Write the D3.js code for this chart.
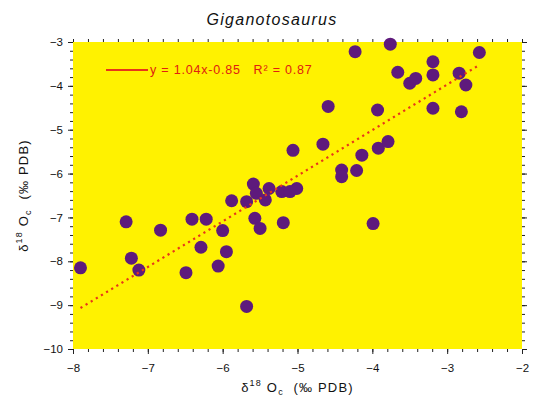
<!DOCTYPE html>
<html>
<head>
<meta charset="utf-8">
<script src="https://cdn.jsdelivr.net/npm/d3@7"></script>
<style>
  body { margin: 0; background: #fff; }
  text { font-family: "Liberation Sans", Arial, sans-serif; white-space: pre; }
</style>
</head>
<body>
<div id="chart"></div>
<script>
// data
const xVals = [-7.90, -7.29, -7.22, -7.12, -6.83, -6.49, -6.41, -6.22, -6.29, -6.06,
               -5.95, -6.00, -5.88, -5.68, -5.68, -5.59, -5.55, -5.43, -5.38, -5.57,
               -5.50, -5.19, -5.21, -5.10, -5.01, -5.06, -4.66, -4.59, -4.41, -4.41,
               -4.21, -4.14, -3.92, -3.79, -3.93, -3.99, -4.23, -3.76, -3.66, -3.50,
               -3.42, -3.19, -3.19, -3.19, -2.84, -2.75, -2.81, -2.57];
const yVals = [-8.15, -7.10, -7.93, -8.20, -7.29, -8.26, -7.04, -7.04, -7.68, -8.11,
               -7.78, -7.30, -6.62, -9.03, -6.64, -6.24, -6.45, -6.60, -6.34, -7.02,
               -7.25, -7.12, -6.41, -6.41, -6.34, -5.47, -5.33, -4.47, -5.92, -6.07,
               -5.93, -5.58, -5.42, -5.27, -4.55, -7.14, -3.22, -3.05, -3.69, -3.94,
               -3.83, -3.45, -3.75, -4.51, -3.71, -3.98, -4.59, -3.24];
const slope = 1.04, intercept = -0.85;
const xTicks = [-8, -7, -6, -5, -4, -3, -2];
const yTicks = [-10, -9, -8, -7, -6, -5, -4, -3];
const fitLabel = "y = 1.04x-0.85   R² = 0.87";

const points = xVals.map((x, i) => ({x: x, y: yVals[i]}));

const width = 535, height = 400;
const margin = {top: 42, right: 13, bottom: 51, left: 73};
const w = width - margin.left - margin.right;
const h = height - margin.top - margin.bottom;

const svg = d3.select("#chart").append("svg")
    .attr("width", width)
    .attr("height", height);

const g = svg.append("g")
    .attr("transform", "translate(" + margin.left + "," + margin.top + ")");

const x = d3.scaleLinear().domain([-8, -2]).range([0, w]);
const y = d3.scaleLinear().domain([-10, -3]).range([h, 0]);

g.append("rect")
    .attr("width", w)
    .attr("height", h)
    .attr("fill", "#fff200");

// minor ticks every 0.2
const xMinor = d3.range(-8, -1.99, 0.2).map(d => +d.toFixed(1));
const yMinor = d3.range(-10, -2.99, 0.2).map(d => +d.toFixed(1));

function styleAxis(sel) {
  sel.select(".domain").remove();
  sel.selectAll("line").attr("stroke", "#222");
  sel.selectAll("text").attr("font-size", 11.5).attr("fill", "#111");
}

// bottom
g.append("g").attr("transform", "translate(0," + h + ")")
    .call(d3.axisBottom(x).tickValues(xMinor).tickSize(3).tickFormat(""))
    .call(styleAxis);
g.append("g").attr("transform", "translate(0," + h + ")")
    .call(d3.axisBottom(x).tickValues(xTicks).tickSize(5).tickPadding(10)
      .tickFormat(d => String(d).replace("-", "\u2212")))
    .call(styleAxis);
// top
g.append("g")
    .call(d3.axisTop(x).tickValues(xMinor).tickSize(3).tickFormat(""))
    .call(styleAxis);
// left
g.append("g")
    .call(d3.axisLeft(y).tickValues(yMinor).tickSize(3).tickFormat(""))
    .call(styleAxis);
g.append("g")
    .call(d3.axisLeft(y).tickValues(yTicks).tickSize(5).tickPadding(5)
      .tickFormat(d => String(d).replace("-", "\u2212")))
    .call(styleAxis);
// right
g.append("g").attr("transform", "translate(" + w + ",0)")
    .call(d3.axisRight(y).tickValues(yMinor).tickSize(3).tickFormat(""))
    .call(styleAxis);
g.append("g").attr("transform", "translate(" + w + ",0)")
    .call(d3.axisRight(y).tickValues(yTicks).tickSize(5).tickFormat(""))
    .call(styleAxis);

// points
g.selectAll("circle")
    .data(points)
    .enter().append("circle")
    .attr("cx", d => x(d.x))
    .attr("cy", d => y(d.y))
    .attr("r", 6.5)
    .attr("fill", "#5e1a7c");

// regression line over the data range
const xr = d3.extent(xVals);
g.append("path")
    .datum(xr.map(v => ({x: v, y: slope * v + intercept})))
    .attr("fill", "none")
    .attr("stroke", "#e8361a")
    .attr("stroke-width", 2.2)
    .attr("stroke-dasharray", "2.2,3.8")
    .attr("d", d3.line().x(d => x(d.x)).y(d => y(d.y)));

// legend
g.append("line")
    .attr("x1", 33).attr("x2", 75)
    .attr("y1", 28).attr("y2", 28)
    .attr("stroke", "#e8361a")
    .attr("stroke-width", 2);
g.append("text")
    .attr("x", 77).attr("y", 32)
    .attr("font-size", 12.5)
    .attr("letter-spacing", 0.8)
    .attr("fill", "#e02010")
    .text(fitLabel);

// title
svg.append("text")
    .attr("x", 272).attr("y", 25)
    .attr("text-anchor", "middle")
    .attr("font-size", 16)
    .attr("letter-spacing", 1.3)
    .attr("font-style", "italic")
    .attr("fill", "#111")
    .text("Giganotosaurus");

// x label
const xl = svg.append("text")
    .attr("x", margin.left + w / 2).attr("y", 392)
    .attr("text-anchor", "middle")
    .attr("font-size", 13)
    .attr("letter-spacing", 1.2)
    .attr("fill", "#111");
xl.append("tspan").text("δ");
xl.append("tspan").attr("dy", -6).attr("font-size", 9).text("18");
xl.append("tspan").attr("dy", 6).text(" O");
xl.append("tspan").attr("dy", 3).attr("font-size", 9).text("c");
xl.append("tspan").attr("dy", -3).text("  (‰ PDB)");

// y label
const yl = svg.append("text")
    .attr("transform", "translate(28," + (margin.top + h / 2) + ") rotate(-90)")
    .attr("text-anchor", "middle")
    .attr("font-size", 13)
    .attr("letter-spacing", 1.2)
    .attr("fill", "#111");
yl.append("tspan").text("δ");
yl.append("tspan").attr("dy", -6).attr("font-size", 9).text("18");
yl.append("tspan").attr("dy", 6).text(" O");
yl.append("tspan").attr("dy", 3).attr("font-size", 9).text("c");
yl.append("tspan").attr("dy", -3).text("  (‰ PDB)");
</script>
</body>
</html>
